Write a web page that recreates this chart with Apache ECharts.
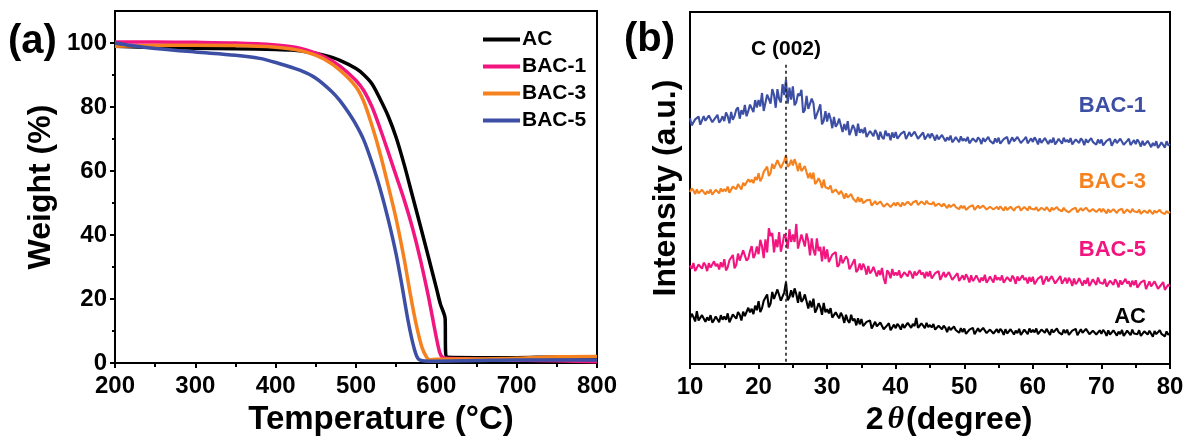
<!DOCTYPE html>
<html>
<head>
<meta charset="utf-8">
<script src="https://cdn.jsdelivr.net/npm/echarts@6/dist/echarts.min.js"></script>
<style>
  html, body { margin: 0; padding: 0; background: #fff; }
  #chart { width: 1195px; height: 441px; }
</style>
</head>
<body>
<div id="chart"></div>
<script>
// ---- (a) TGA curves: [temperature, weight %]
const tgaAC = [[200, 99.0], [250, 98.6], [300, 98.4], [350, 98.2], [400, 98.0], [420, 97.8], [440, 97.2], [460, 96.2],
  [480, 94.6], [500, 92.0], [510, 90.0], [520, 87.2], [530, 82.5], [540, 77.2], [550, 70.5], [560, 62.0], [570, 52.5],
  [580, 43.0], [590, 33.3], [600, 23.5], [605, 18.5], [611, 13.8], [611.5, 3.6], [614, 1.8], [650, 1.7], [700, 1.7],
  [750, 1.9], [800, 1.8]];
const tgaBAC1 = [[200, 100.3], [250, 100.3], [300, 100.2], [350, 100.0], [400, 99.4], [420, 98.8], [440, 97.7], [460, 95.8],
  [480, 92.8], [500, 88.3], [510, 85.0], [520, 80.0], [530, 73.3], [540, 66.0], [550, 58.5], [560, 51.0], [570, 42.5],
  [580, 32.5], [590, 21.0], [595, 14.5], [600, 8.0], [604, 3.5], [607, 2.0], [612, 1.5], [650, 1.3], [700, 1.0],
  [750, 0.7], [800, 0.4]];
const tgaBAC3 = [[200, 99.0], [250, 99.2], [300, 99.3], [350, 99.2], [400, 98.7], [420, 98.1], [440, 97.0], [460, 95.0],
  [480, 91.5], [500, 86.3], [510, 81.5], [521, 73.3], [530, 65.5], [540, 55.5], [550, 45.0], [560, 32.5], [568, 21.0],
  [575, 12.0], [582, 5.0], [588, 1.8], [592, 1.0], [600, 1.2], [650, 1.3], [700, 1.5], [750, 2.0], [800, 2.1]];
const tgaBAC5 = [[200, 100.0], [220, 99.2], [250, 98.3], [300, 97.2], [350, 96.2], [380, 95.2], [400, 93.9], [430, 91.5],
  [450, 89.0], [470, 84.8], [480, 82.0], [490, 78.5], [500, 74.5], [510, 69.5], [520, 62.5], [530, 54.5], [540, 45.0],
  [550, 34.0], [557, 24.5], [565, 13.0], [572, 5.0], [578, 1.2], [590, 0.6], [650, 0.8], [700, 1.0], [750, 1.0], [800, 1.0]];
const weightTicks = [0, 20, 40, 60, 80, 100];
const weightMinorTicks = [10, 30, 50, 70, 90];

// ---- (b) XRD patterns, one value every 0.25 degree from 10 to 80 (offset intensity, a.u.)
const angleStart = 10;
const angleStep = 0.25;
const xrdBAC1 = [
  69.8, 67.8, 68.3, 69.5, 69.4, 70.3, 68.0, 68.5, 70.4, 69.1, 69.3, 70.6, 70.2, 68.7, 68.9, 70.1, 70.8, 68.6, 69.2, 70.4,
  69.0, 71.5, 70.4, 68.4, 71.6, 69.4, 70.5, 72.3, 72.9, 69.7, 72.1, 70.9, 73.6, 70.4, 71.9, 73.7, 73.2, 71.6, 75.0, 72.9,
  75.0, 73.2, 77.0, 71.9, 71.8, 76.5, 75.3, 74.0, 78.1, 76.5, 72.8, 78.1, 75.3, 74.3, 79.5, 76.4, 80.8, 74.0, 78.5, 75.1,
  78.9, 73.5, 74.4, 76.8, 76.2, 77.9, 71.4, 72.2, 76.2, 72.5, 72.5, 75.4, 74.1, 69.6, 69.9, 72.3, 73.8, 68.1, 69.1, 71.8,
  68.9, 71.3, 69.7, 67.0, 70.2, 67.4, 68.2, 69.7, 69.9, 65.9, 68.2, 66.4, 69.0, 65.0, 66.3, 67.9, 66.9, 64.8, 68.3, 65.7,
  66.7, 65.6, 67.2, 64.5, 64.2, 66.2, 65.5, 64.7, 66.5, 65.5, 63.7, 66.0, 64.5, 63.9, 66.3, 64.8, 65.5, 63.6, 65.8, 64.3,
  65.9, 64.0, 64.4, 65.4, 65.3, 66.1, 63.9, 64.3, 65.9, 64.7, 64.8, 66.0, 65.6, 64.0, 64.2, 65.2, 65.8, 63.8, 64.3, 65.4,
  64.2, 65.5, 64.7, 63.5, 65.1, 63.8, 64.2, 65.1, 65.2, 63.3, 64.4, 63.6, 64.9, 63.0, 63.6, 64.5, 64.0, 63.0, 64.7, 63.4,
  64.0, 63.3, 64.5, 62.7, 62.6, 64.1, 63.6, 63.1, 64.4, 63.8, 62.5, 64.2, 63.2, 62.8, 64.5, 63.4, 63.9, 62.6, 64.1, 63.0,
  64.3, 62.6, 63.0, 63.9, 63.8, 64.5, 62.5, 62.9, 64.4, 63.3, 63.4, 64.5, 64.2, 62.8, 63.0, 63.9, 64.5, 62.7, 63.1, 64.1,
  63.1, 64.4, 63.6, 62.4, 64.1, 62.8, 63.3, 64.2, 64.4, 62.5, 63.7, 62.9, 64.3, 62.4, 63.1, 64.0, 63.6, 62.6, 64.3, 63.1,
  63.7, 63.0, 64.2, 62.4, 62.3, 63.8, 63.3, 62.8, 64.1, 63.5, 62.2, 63.9, 62.9, 62.5, 64.2, 63.1, 63.6, 62.3, 63.8, 62.7,
  63.8, 62.1, 62.5, 63.4, 63.3, 64.0, 62.0, 62.4, 63.9, 62.8, 62.9, 64.0, 63.7, 62.3, 62.5, 63.4, 64.0, 62.2, 62.6, 63.6,
  62.5, 63.8, 63.0, 61.8, 63.4, 62.1, 62.5, 63.4, 63.5, 61.6, 62.8, 62.0, 63.3, 61.4, 62.1, 63.0, 62.6, 61.5, 63.3, 62.1,
  62.5];
const xrdBAC3 = [
  48.9, 49.9, 49.3, 48.3, 49.6, 48.5, 48.9, 49.5, 49.7, 48.2, 49.1, 48.5, 49.6, 48.1, 48.8, 49.5, 49.2, 48.5, 49.9, 49.0,
  49.7, 49.1, 50.4, 48.7, 48.7, 50.4, 50.0, 49.7, 51.1, 50.7, 49.6, 51.5, 50.7, 50.6, 52.5, 51.7, 52.4, 51.4, 53.1, 52.3,
  54.2, 51.9, 52.9, 54.6, 54.8, 56.1, 53.4, 54.3, 56.9, 55.5, 55.9, 57.9, 57.7, 55.7, 56.2, 57.8, 59.3, 56.0, 56.6, 58.0,
  56.4, 58.2, 56.8, 54.8, 57.1, 54.8, 55.1, 56.2, 56.1, 52.8, 54.3, 52.6, 54.4, 51.1, 51.8, 52.8, 51.8, 50.0, 52.4, 50.2,
  50.7, 49.8, 50.7, 48.7, 48.3, 49.6, 48.9, 48.2, 49.2, 48.4, 47.0, 48.5, 47.3, 46.8, 48.3, 47.1, 47.4, 46.0, 47.4, 46.1,
  47.1, 45.7, 45.9, 46.5, 46.2, 46.7, 45.0, 45.2, 46.3, 45.3, 45.4, 46.2, 45.9, 44.7, 44.9, 45.6, 46.0, 44.6, 45.0, 45.8,
  45.0, 45.9, 45.5, 44.7, 45.9, 45.1, 45.4, 46.1, 46.3, 45.1, 45.9, 45.5, 46.4, 45.2, 45.6, 46.2, 45.9, 45.3, 46.4, 45.6,
  45.9, 45.4, 46.1, 44.9, 44.7, 45.6, 45.3, 44.8, 45.6, 45.2, 44.3, 45.3, 44.6, 44.3, 45.4, 44.6, 44.9, 44.0, 45.0, 44.3,
  44.9, 43.8, 44.1, 44.7, 44.6, 45.1, 43.8, 44.0, 45.0, 44.3, 44.3, 45.0, 44.8, 43.9, 44.1, 44.7, 45.0, 43.9, 44.1, 44.7,
  43.9, 44.8, 44.3, 43.6, 44.7, 43.8, 44.1, 44.7, 44.9, 43.6, 44.4, 43.9, 44.8, 43.6, 44.0, 44.6, 44.3, 43.7, 44.8, 44.1,
  44.3, 43.9, 44.6, 43.5, 43.4, 44.4, 44.1, 43.7, 44.6, 44.2, 43.3, 44.4, 43.8, 43.5, 44.6, 43.9, 44.3, 43.4, 44.4, 43.7,
  44.2, 43.1, 43.4, 44.0, 43.9, 44.4, 43.1, 43.3, 44.3, 43.6, 43.6, 44.4, 44.2, 43.3, 43.4, 44.0, 44.4, 43.2, 43.4, 44.1,
  43.2, 44.1, 43.6, 42.8, 44.0, 43.1, 43.4, 44.0, 44.1, 42.9, 43.7, 43.2, 44.1, 42.8, 43.3, 43.9, 43.6, 43.0, 44.1, 43.4,
  43.5, 43.1, 43.9, 42.7, 42.6, 43.6, 43.3, 42.9, 43.8, 43.4, 42.6, 43.6, 43.0, 42.8, 43.8, 43.1, 43.4, 42.6, 43.5, 42.9,
  43.3];
const xrdBAC5 = [
  28.0, 27.1, 28.7, 26.4, 26.3, 28.3, 27.7, 27.1, 28.8, 28.1, 26.4, 28.7, 27.4, 27.0, 29.2, 27.8, 28.5, 26.9, 28.9, 27.5,
  29.8, 26.6, 27.5, 29.5, 29.4, 31.0, 27.2, 28.2, 31.4, 29.4, 29.9, 32.3, 31.9, 29.4, 30.0, 32.1, 33.5, 30.1, 31.2, 33.4,
  31.2, 35.3, 33.5, 30.1, 35.4, 31.7, 38.6, 36.4, 37.2, 31.7, 35.4, 33.2, 37.5, 31.9, 34.1, 36.9, 35.8, 32.8, 38.3, 34.7,
  36.8, 34.7, 39.8, 32.8, 32.5, 36.8, 35.1, 33.4, 37.1, 35.0, 30.9, 35.7, 32.4, 30.9, 35.7, 32.1, 33.3, 29.2, 33.4, 29.8,
  32.6, 29.0, 29.5, 31.1, 30.6, 31.8, 27.6, 28.2, 30.9, 28.6, 28.6, 30.6, 29.8, 26.9, 27.1, 28.8, 29.8, 26.1, 26.8, 28.6,
  26.7, 28.5, 27.4, 25.4, 27.9, 25.8, 26.4, 27.6, 27.8, 24.9, 26.6, 25.3, 27.3, 24.3, 22.8, 26.6, 25.9, 24.4, 27.0, 25.2,
  26.0, 25.2, 26.6, 24.5, 24.3, 26.1, 25.5, 24.9, 26.5, 25.8, 24.3, 26.3, 25.2, 24.7, 26.7, 25.4, 26.0, 24.4, 26.2, 24.9,
  26.4, 24.3, 24.7, 25.8, 25.6, 26.4, 23.9, 24.4, 26.1, 24.7, 24.8, 26.1, 25.7, 23.9, 24.1, 25.2, 25.8, 23.6, 24.0, 25.2,
  23.9, 25.5, 24.6, 23.2, 25.2, 23.6, 24.2, 25.2, 25.5, 23.2, 24.6, 23.7, 25.4, 23.1, 23.9, 24.9, 24.4, 23.2, 25.3, 23.9,
  24.6, 23.8, 25.2, 23.1, 22.9, 24.7, 24.1, 23.5, 25.1, 24.4, 22.8, 24.9, 23.7, 23.2, 25.2, 23.9, 24.5, 22.9, 24.7, 23.4,
  24.8, 22.7, 23.2, 24.3, 24.1, 25.0, 22.6, 23.1, 24.9, 23.5, 23.7, 25.0, 24.6, 22.9, 23.2, 24.3, 25.0, 22.8, 23.3, 24.5,
  22.9, 24.5, 23.7, 22.2, 24.3, 22.7, 23.3, 24.4, 24.6, 22.3, 23.8, 22.8, 24.5, 22.2, 23.1, 24.1, 23.7, 22.5, 24.6, 23.2,
  23.6, 22.8, 24.2, 22.0, 21.9, 23.7, 23.1, 22.5, 24.1, 23.3, 21.8, 23.8, 22.6, 22.1, 24.2, 22.9, 23.5, 21.9, 23.7, 22.4,
  23.8, 21.7, 22.1, 23.2, 23.0, 23.8, 21.3, 21.8, 23.5, 22.1, 22.3, 23.5, 23.1, 21.4, 21.6, 22.6, 23.3, 21.1, 21.5, 22.6,
  22.0];
const xrdAC = [
  12.9, 14.3, 13.4, 12.1, 15.0, 12.4, 12.9, 13.9, 14.1, 12.0, 13.3, 12.4, 13.9, 11.8, 12.5, 13.5, 13.0, 11.9, 13.9, 12.6,
  13.5, 12.6, 14.4, 11.9, 11.9, 14.1, 13.5, 12.9, 14.8, 14.0, 12.4, 14.9, 13.6, 13.3, 16.0, 14.7, 15.7, 14.2, 16.6, 15.3,
  17.9, 14.8, 15.9, 18.0, 18.1, 19.8, 16.1, 17.2, 20.5, 18.5, 18.8, 21.2, 20.7, 18.0, 18.5, 20.4, 23.3, 18.1, 19.0, 21.0,
  19.0, 21.5, 19.9, 17.4, 20.6, 17.7, 18.4, 19.8, 19.9, 15.8, 18.0, 16.1, 18.6, 14.6, 15.7, 17.3, 16.2, 14.0, 17.4, 14.7,
  15.6, 14.4, 15.9, 13.2, 12.8, 14.7, 13.8, 13.0, 14.6, 13.6, 11.7, 14.0, 12.4, 11.7, 14.0, 12.3, 12.9, 11.0, 13.0, 11.3,
  12.8, 10.8, 11.1, 12.0, 11.8, 12.4, 10.1, 10.5, 12.0, 10.7, 10.7, 11.8, 11.4, 9.9, 10.0, 11.0, 11.6, 9.6, 10.1, 11.2,
  10.2, 11.4, 10.8, 9.8, 11.4, 10.3, 10.8, 11.7, 11.9, 10.3, 11.4, 10.8, 13.1, 10.3, 10.9, 11.6, 11.1, 10.2, 11.7, 10.5,
  11.1, 10.4, 11.4, 9.8, 9.6, 10.9, 10.4, 9.9, 10.9, 10.3, 9.1, 10.6, 9.7, 9.2, 10.7, 9.7, 10.1, 8.9, 10.2, 9.1,
  10.1, 8.6, 9.0, 9.8, 9.7, 10.3, 8.5, 8.9, 10.2, 9.2, 9.3, 10.3, 10.1, 8.8, 9.0, 9.8, 10.3, 8.7, 9.1, 9.9,
  8.9, 10.0, 9.4, 8.3, 9.9, 8.7, 9.1, 9.9, 10.1, 8.4, 9.5, 8.8, 10.0, 8.3, 9.0, 9.8, 9.4, 8.5, 10.1, 9.0,
  9.7, 9.0, 10.1, 8.5, 8.4, 9.8, 9.3, 8.9, 10.0, 9.5, 8.3, 9.9, 9.0, 8.6, 10.1, 9.1, 9.6, 8.4, 9.8, 8.8,
  9.8, 8.3, 8.7, 9.5, 9.4, 10.0, 8.2, 8.6, 9.9, 8.9, 9.0, 10.0, 9.8, 8.5, 8.7, 9.5, 10.0, 8.4, 8.8, 9.6,
  8.6, 9.7, 9.1, 8.0, 9.6, 8.4, 8.8, 9.6, 9.8, 8.1, 9.2, 8.5, 9.7, 8.0, 8.7, 9.5, 9.1, 8.2, 9.8, 8.7,
  9.2, 8.5, 9.6, 8.0, 7.9, 9.3, 8.8, 8.4, 9.5, 9.0, 7.8, 9.4, 8.5, 8.1, 9.6, 8.6, 9.1, 7.9, 9.3, 8.3,
  8.8];
const peakAngle = 24;   // C (002)
const peakLineTop = 85; // where the dotted line starts (intensity units)

const FONT = "'Liberation Sans', Arial, sans-serif";
const colBlack = '#000000';
const colPink = '#f2157f';
const colOrange = '#f5821f';
const colBlue = '#3d4fa5';

function withAngles(values) {
  return values.map((v, i) => [angleStart + i * angleStep, v]);
}

const chart = echarts.init(document.getElementById('chart'), null, { renderer: 'canvas' });

const boldText = (size) => ({ fontFamily: FONT, fontWeight: 'bold', fontSize: size, color: '#000' });

function tgaSeries(name, data, color) {
  return {
    name: name, type: 'line', xAxisIndex: 0, yAxisIndex: 0, data: data,
    showSymbol: false, smooth: 0.3, lineStyle: { width: 3.5, color: color }, itemStyle: { color: color },
    animation: false
  };
}

function xrdSeries(name, values, color) {
  return {
    name: name + ' ', type: 'line', xAxisIndex: 1, yAxisIndex: 2, data: withAngles(values),
    showSymbol: false, sampling: null, lineStyle: { width: 2.1, color: color }, itemStyle: { color: color },
    animation: false
  };
}

const acXrd = xrdSeries('AC', xrdAC, colBlack);
acXrd.markLine = {
  silent: true, symbol: 'none', animation: false,
  lineStyle: { color: '#222', width: 1.6, type: [3, 3] },
  label: { show: true, position: 'start', distance: 5, formatter: 'C (002)', ...boldText(21) },
  data: [[{ coord: [peakAngle, peakLineTop] }, { coord: [peakAngle, 0] }]]
};

const option = {
  backgroundColor: '#fff',
  animation: false,
  grid: [
    { left: 115, top: 11, width: 482, height: 357, show: true, borderColor: '#000', borderWidth: 2 },
    { left: 690, top: 12, width: 480, height: 357, show: true, borderColor: '#000', borderWidth: 2 }
  ],
  legend: {
    data: ['AC', 'BAC-1', 'BAC-3', 'BAC-5'],
    orient: 'vertical', left: 478, top: 24, itemGap: 6,
    icon: 'rect', itemWidth: 37, itemHeight: 4,
    textStyle: { ...boldText(21), padding: [0, 0, 0, -3] }
  },
  xAxis: [
    {
      gridIndex: 0, type: 'value', min: 200, max: 800, interval: 100,
      name: 'Temperature (°C)', nameLocation: 'middle', nameGap: 33,
      nameTextStyle: { ...boldText(33), padding: [0, 0, 0, 50] },
      axisLine: { lineStyle: { color: '#000', width: 2 } },
      axisTick: { length: 5, lineStyle: { color: '#000', width: 2 } },
      minorTick: { show: true, splitNumber: 2, length: 4, lineStyle: { color: '#000', width: 2 } },
      axisLabel: { margin: 11, ...boldText(24) },
      splitLine: { show: false }
    },
    {
      gridIndex: 1, type: 'value', min: 10, max: 80, interval: 10,
      name: '{n|2}{t|θ}{n|(degree)}', nameLocation: 'middle', nameGap: 34,
      nameTextStyle: {
        ...boldText(32), padding: [0, 0, 0, 38],
        rich: {
          n: { ...boldText(32) },
          t: { fontFamily: "'Liberation Serif', 'DejaVu Serif', serif", fontStyle: 'italic', fontSize: 32, color: '#000', padding: [0, 2, 0, 4] }
        }
      },
      axisLine: { lineStyle: { color: '#000', width: 2 } },
      axisTick: { length: 5, lineStyle: { color: '#000', width: 2 } },
      minorTick: { show: true, splitNumber: 2, length: 4, lineStyle: { color: '#000', width: 2 } },
      axisLabel: { margin: 11, ...boldText(24) },
      splitLine: { show: false }
    }
  ],
  yAxis: [
    {
      gridIndex: 0, type: 'value', min: 0, max: 110,
      name: 'Weight (%)', nameLocation: 'middle', nameGap: 44, nameRotate: 90,
      nameTextStyle: { ...boldText(32), padding: [0, 0, 14, 0] },
      axisLine: { lineStyle: { color: '#000', width: 2 } },
      axisTick: { length: 5, customValues: weightTicks, lineStyle: { color: '#000', width: 2 } },
      axisLabel: { margin: 8, customValues: weightTicks, ...boldText(24) },
      splitLine: { show: false }
    },
    {
      gridIndex: 0, type: 'value', min: 0, max: 110, position: 'left',
      axisLine: { show: false },
      axisTick: { length: 3, customValues: weightMinorTicks, lineStyle: { color: '#000', width: 2 } },
      axisLabel: { show: false },
      splitLine: { show: false }
    },
    {
      gridIndex: 1, type: 'value', min: 0, max: 100,
      name: 'Intensity (a.u.)', nameLocation: 'middle', nameGap: 8, nameRotate: 90,
      nameTextStyle: { ...boldText(32) },
      axisLine: { lineStyle: { color: '#000', width: 2 } },
      axisTick: { show: false },
      axisLabel: { show: false },
      splitLine: { show: false }
    }
  ],
  series: [
    tgaSeries('AC', tgaAC, colBlack),
    tgaSeries('BAC-1', tgaBAC1, colPink),
    tgaSeries('BAC-3', tgaBAC3, colOrange),
    tgaSeries('BAC-5', tgaBAC5, colBlue),
    acXrd,
    xrdSeries('BAC-5', xrdBAC5, colPink),
    xrdSeries('BAC-3', xrdBAC3, colOrange),
    xrdSeries('BAC-1', xrdBAC1, colBlue)
  ],
  graphic: [
    { type: 'text', left: 8, top: 22, style: { text: '(a)', fill: '#000', font: 'bold 40px ' + FONT } },
    { type: 'text', left: 624, top: 20, style: { text: '(b)', fill: '#000', font: 'bold 40px ' + FONT } },
    { type: 'text', right: 1195 - 1146, top: 95, style: { text: 'BAC-1', fill: colBlue, font: 'bold 22px ' + FONT } },
    { type: 'text', right: 1195 - 1146, top: 171, style: { text: 'BAC-3', fill: colOrange, font: 'bold 22px ' + FONT } },
    { type: 'text', right: 1195 - 1146, top: 239, style: { text: 'BAC-5', fill: colPink, font: 'bold 22px ' + FONT } },
    { type: 'text', right: 1195 - 1146, top: 306, style: { text: 'AC', fill: colBlack, font: 'bold 22px ' + FONT } }
  ]
};

chart.setOption(option);
window.addEventListener('resize', chart.resize);
</script>
</body>
</html>
